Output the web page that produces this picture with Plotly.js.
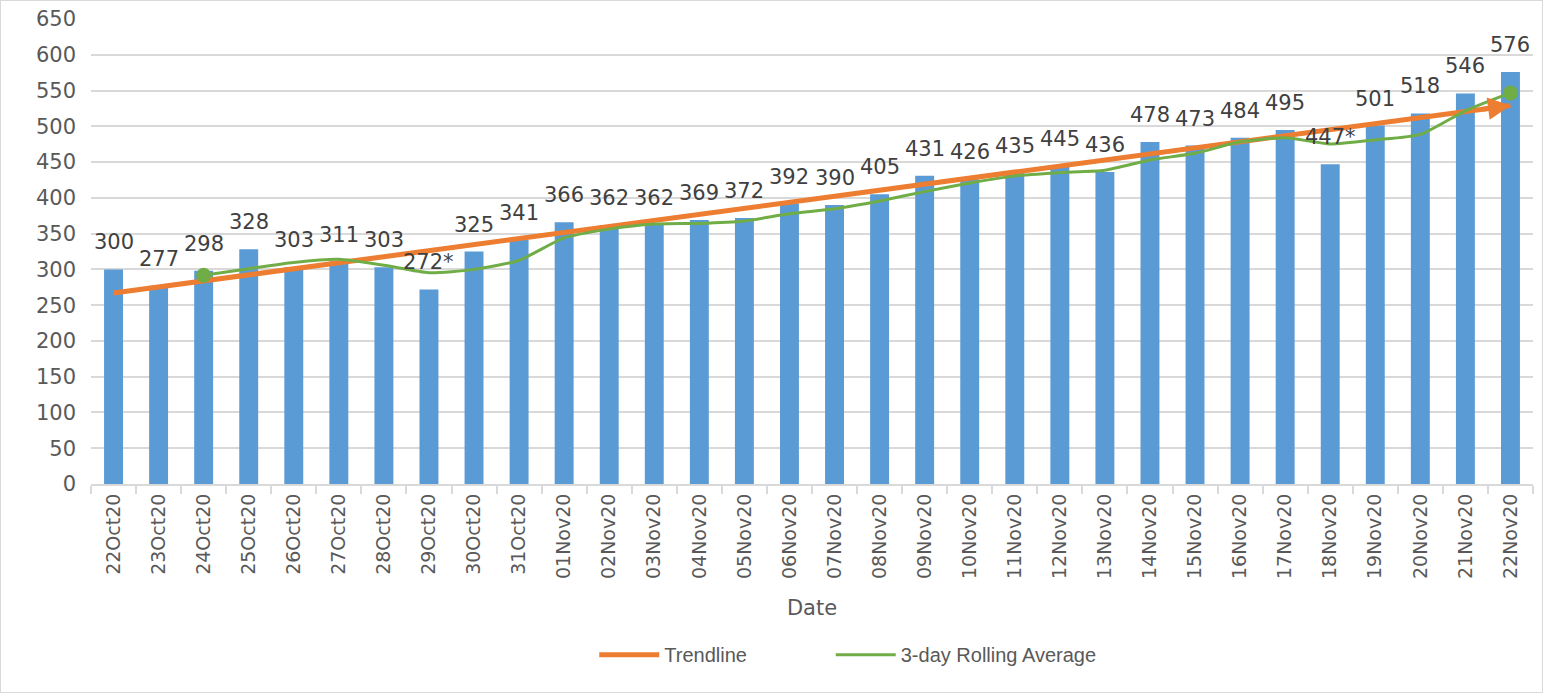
<!DOCTYPE html>
<html>
<head>
<meta charset="utf-8">
<script src="https://cdn.plot.ly/plotly-3.0.1.min.js"></script>
<style>
  html, body { margin: 0; padding: 0; background: #fff; }
  #chart { width: 1541px; height: 691px; border: 1px solid #d9d9d9; }
</style>
</head>
<body>
<div id="chart"></div>
<script>
const dates = ["22Oct20","23Oct20","24Oct20","25Oct20","26Oct20","27Oct20","28Oct20","29Oct20","30Oct20","31Oct20",
  "01Nov20","02Nov20","03Nov20","04Nov20","05Nov20","06Nov20","07Nov20","08Nov20","09Nov20","10Nov20",
  "11Nov20","12Nov20","13Nov20","14Nov20","15Nov20","16Nov20","17Nov20","18Nov20","19Nov20","20Nov20","21Nov20","22Nov20"];
const counts = [300,277,298,328,303,311,303,272,325,341,366,362,362,369,372,392,390,405,431,426,435,445,436,478,473,484,495,447,501,518,546,576];
const countLabels = ["300","277","298","328","303","311","303","272*","325","341","366","362","362","369","372","392","390","405","431","426","435","445","436","478","473","484","495","447*","501","518","546","576"];
const rollingDates = dates.slice(2);
const rollingAvg = [291.7,301.0,309.7,314.0,305.7,295.3,300.0,312.7,344.0,356.3,363.3,364.3,367.7,377.7,384.7,395.7,408.7,420.7,430.7,435.3,438.7,453.0,462.3,478.3,484.0,475.3,481.0,488.7,521.7,546.7];
const trendDates = ["22Oct20","22Nov20"];
const trendValues = [267, 529];
const yTicks = [0,50,100,150,200,250,300,350,400,450,500,550,600,650];

const FONT = "DejaVu Sans, Liberation Sans, sans-serif";
const TXT = "#404040";

const bars = {
  type: "bar", x: dates, y: counts, name: "Count",
  marker: { color: "#5b9bd5" }, showlegend: false
};
const trend = {
  type: "scatter", mode: "lines", x: trendDates, y: trendValues, name: "Trendline",
  line: { color: "#ed7d31", width: 5 }, legend: "legend"
};
const rolling = {
  type: "scatter", mode: "lines+markers", x: rollingDates, y: rollingAvg, name: "3-day Rolling Average",
  line: { color: "#70ad47", width: 3, shape: "spline", smoothing: 0.6 }, legend: "legend2",
  marker: { color: "#70ad47", opacity: 1, line: { width: 0 },
    size: rollingAvg.map((v, i) => (i === 0 || i === rollingAvg.length - 1) ? 15 : 0) }
};

const annotations = dates.map((d, i) => ({
  x: d, y: counts[i], text: countLabels[i], showarrow: false,
  yanchor: "bottom", yshift: 13, font: { family: FONT, size: 21, color: TXT }
}));
annotations.push({
  x: trendDates[1], y: trendValues[1], ax: -30, ay: 4, showarrow: true,
  arrowhead: 2, arrowsize: 0.9, arrowwidth: 5, arrowcolor: "#ed7d31", text: ""
});

const legendFont = { family: "Liberation Sans, sans-serif", size: 20, color: "#595959" };

const layout = {
  width: 1541, height: 691,
  margin: { l: 90, r: 9, t: 18, b: 208 },
  paper_bgcolor: "#fff", plot_bgcolor: "#fff",
  font: { family: FONT, color: "#595959" },
  bargap: 0.58,
  xaxis: {
    type: "category", range: [-0.5, 31.5], tickangle: -90,
    tickfont: { family: FONT, size: 19, color: "#595959" },
    ticks: "outside", tickson: "boundaries", ticklen: 8, tickcolor: "#d9d9d9", tickwidth: 2,
    showline: true, linecolor: "#d9d9d9", linewidth: 2, showgrid: false,
    title: { text: "Date", font: { family: FONT, size: 21, color: "#595959" }, standoff: 22 }
  },
  yaxis: {
    range: [0, 650], tickvals: yTicks, ticktext: yTicks.map(String),
    tickfont: { family: FONT, size: 21, color: "#595959" }, ticklabelstandoff: 14,
    gridcolor: "#d9d9d9", gridwidth: 2, zeroline: false, showline: false, ticks: ""
  },
  legend: {
    orientation: "h", x: 0.349, xanchor: "left", y: -0.325, yanchor: "top",
    font: legendFont, itemwidth: 60
  },
  legend2: {
    orientation: "h", x: 0.513, xanchor: "left", y: -0.325, yanchor: "top",
    font: legendFont, itemwidth: 60
  },
  annotations: annotations
};

Plotly.newPlot("chart", [bars, trend, rolling], layout, { displayModeBar: false, staticPlot: true });
</script>
</body>
</html>
